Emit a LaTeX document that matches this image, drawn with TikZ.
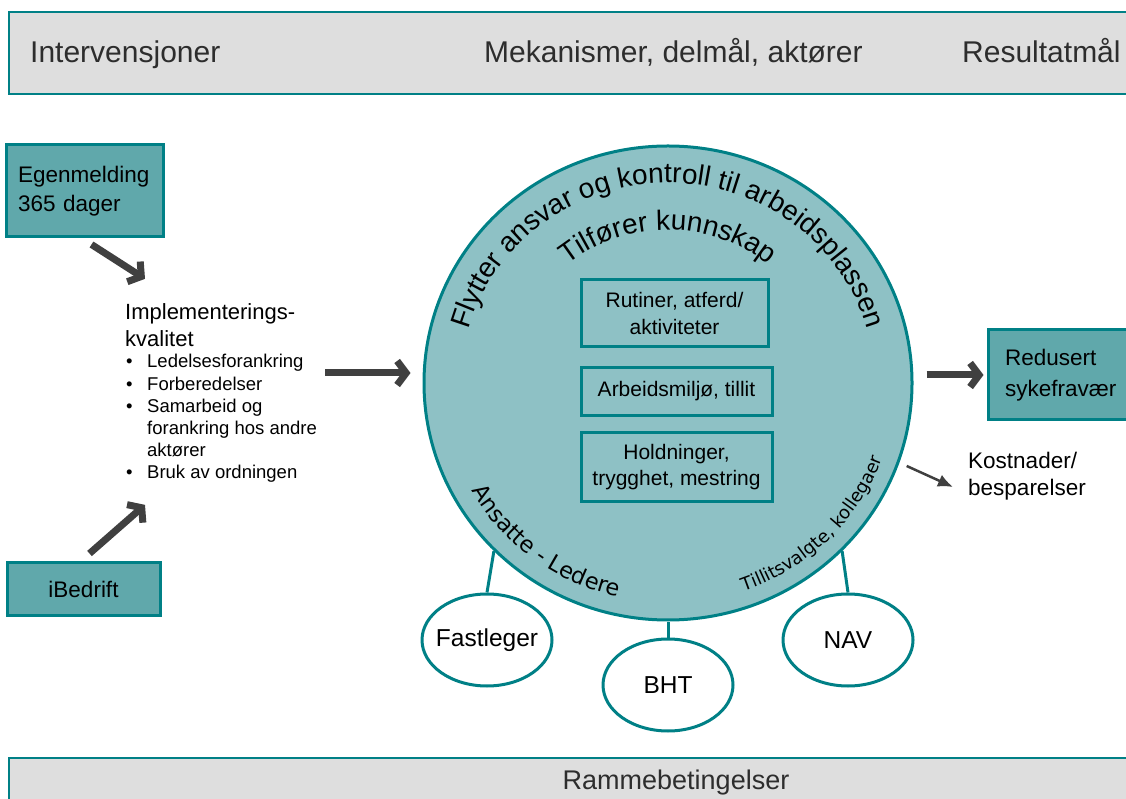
\documentclass[tikz,border=0pt]{standalone}
\usepackage{fontspec}
\setmainfont{Liberation Sans}
\newfontfamily\verdana{DejaVu Sans}
\usepackage{tikz}
\usetikzlibrary{arrows.meta}
\usetikzlibrary{shapes.geometric}
\usetikzlibrary{decorations.text}

\definecolor{tealline}{RGB}{0,128,134}
\definecolor{circfill}{RGB}{142,193,197}
\definecolor{boxteal}{RGB}{96,168,171}
\definecolor{bannergray}{RGB}{222,222,222}
\definecolor{arrowgray}{RGB}{64,64,64}
\definecolor{bannertext}{RGB}{45,45,45}

\tikzset{
  banner/.style={draw=tealline, fill=bannergray, line width=2pt},
  bannerlabel/.style={inner sep=0pt, text=bannertext, font=\fontsize{30}{30}\selectfont},
  tealbox/.style={draw=tealline, fill=boxteal, line width=3pt, font=\fontsize{22.5}{29}\selectfont},
  innerbox/.style={draw=tealline, line width=3pt, align=center, font=\fontsize{21}{26.5}\selectfont},
  actor/.style={ellipse, draw=tealline, fill=white, line width=3pt, minimum width=130pt, minimum height=92pt, inner xsep=-8pt, inner ysep=0pt, font=\fontsize{24.5}{24.5}\selectfont},
  bigarrow/.style={draw=arrowgray, line width=7pt, -{Straight Barb[length=9pt,width=24pt]}},
  thinarrow/.style={draw=arrowgray, line width=2.5pt, -{Latex[length=15pt,width=13pt]}},
  link/.style={draw=tealline, line width=3pt},
  arctext/.style={decorate, decoration={text along path, text align=center, text={#1}}}
}

\begin{document}
\begin{tikzpicture}[x=1pt, y=1pt]
\useasboundingbox (0,0) rectangle (1126,798);
\clip (0,0) rectangle (1126,798);

% topp og bunn
\draw[banner] (9,704) rectangle (1145,786);
\draw[banner] (9,-10) rectangle (1145,40);
\node[bannerlabel, anchor=base west] (interv) at (30,735) {Intervensjoner};
\node[bannerlabel, anchor=base west] (mekan) at (484,735) {Mekanismer, delmål, aktører};
\node[bannerlabel, anchor=base west] (result) at (962,735) {Resultatmål};
\node[bannerlabel, anchor=base, font=\fontsize{27}{27}\selectfont] (ramme) at (676,9) {Rammebetingelser};

% intervensjoner
\node[tealbox, minimum width=157pt, minimum height=92pt, text width=133pt, inner xsep=12pt, align=left] (egen) at (84.5,607) {Egenmelding\\365 dager};
\node[tealbox, minimum width=153pt, minimum height=52pt] (ibed) at (83.5,209) {iBedrift};
\node[inner sep=0pt, anchor=base west, align=left, font=\fontsize{22}{27}\selectfont] (implhead) at (125,451) {Implementerings-\\kvalitet};
\node[inner sep=0pt, anchor=base west, font=\fontsize{18.5}{22.2}\selectfont] (impllist) at (126,430) {%
  \begin{tabular}[t]{@{}p{21pt}@{}l@{}}
  \textbullet & Ledelsesforankring\\
  \textbullet & Forberedelser\\
  \textbullet & Samarbeid og\\
              & forankring hos andre\\
              & aktører\\
  \textbullet & Bruk av ordningen
  \end{tabular}};

% mekanismer
\node[ellipse, draw=tealline, fill=circfill, line width=3pt, minimum width=488pt, minimum height=474pt, inner sep=0pt] (circ) at (668,415) {};
\path[arctext={|\fontsize{28}{28}\selectfont|Flytter ansvar og kontroll til arbeidsplassen}]
  (668,415) ++(172:207pt and 200pt) arc[start angle=172, end angle=8, x radius=207pt, y radius=200pt];
\path[arctext={|\fontsize{28}{28}\selectfont|Tilfører kunnskap}]
  (668,415) ++(160:158pt and 153pt) arc[start angle=160, end angle=20, x radius=158pt, y radius=153pt];
\path[arctext={|\verdana\fontsize{22.5}{22.5}\selectfont|Ansatte - Ledere}]
  (668,415) ++(182:226pt and 219pt) arc[start angle=182, end angle=284, x radius=226pt, y radius=219pt];
\path[arctext={|\verdana\fontsize{18}{18}\selectfont|Tillitsvalgte, kollegaer}]
  (668,415) ++(268:228pt and 221pt) arc[start angle=268, end angle=362, x radius=228pt, y radius=221pt];

\node[innerbox, minimum width=187pt, minimum height=67pt] (rutiner) at (674.5,484.5) {Rutiner, atferd/\\aktiviteter};
\node[innerbox, minimum width=191pt, minimum height=48pt] (miljo) at (676.5,406.5) {Arbeidsmiljø, tillit};
\node[innerbox, minimum width=191pt, minimum height=69pt] (holdn) at (676.5,331) {Holdninger,\\trygghet, mestring};

% aktører under sirkelen
\node[actor] (fast) at (487,158) {Fastleger};
\node[actor] (bht) at (668,113) {BHT};
\node[actor] (nav) at (848,158) {NAV};
\draw[link] (fast.north) -- (circ.224);
\draw[link] (bht.north) -- (circ.south);
\draw[link] (nav.north) -- (circ.316);

% resultatmål
\node[tealbox, minimum width=152pt, minimum height=90pt, text width=118pt, inner xsep=17pt, align=left, font=\fontsize{22.5}{31}\selectfont] (redus) at (1064,423) {Redusert\\sykefravær};
\node[inner sep=0pt, anchor=base west, align=left, font=\fontsize{22.5}{27}\selectfont] (kost) at (968,302) {Kostnader/\\besparelser};

% piler
\draw[bigarrow] ([shift={(7,-6)}]egen.south) -- ([shift={(20,25)}]implhead.north west);
\draw[bigarrow] ([shift={(6,8)}]ibed.north) -- ([shift={(19,-19)}]impllist.south west);
\coordinate (implout) at (325,425);
\draw[bigarrow, shorten >=12pt] (implout) -- (implout -| circ.west);
\draw[bigarrow, shorten <=13pt, shorten >=3pt] (circ.east |- redus.west) -- (redus.west);
\draw[thinarrow, shorten <=8pt] (circ.-19) -- ([shift={(-15,9)}]kost.base west);
\end{tikzpicture}
\end{document}
